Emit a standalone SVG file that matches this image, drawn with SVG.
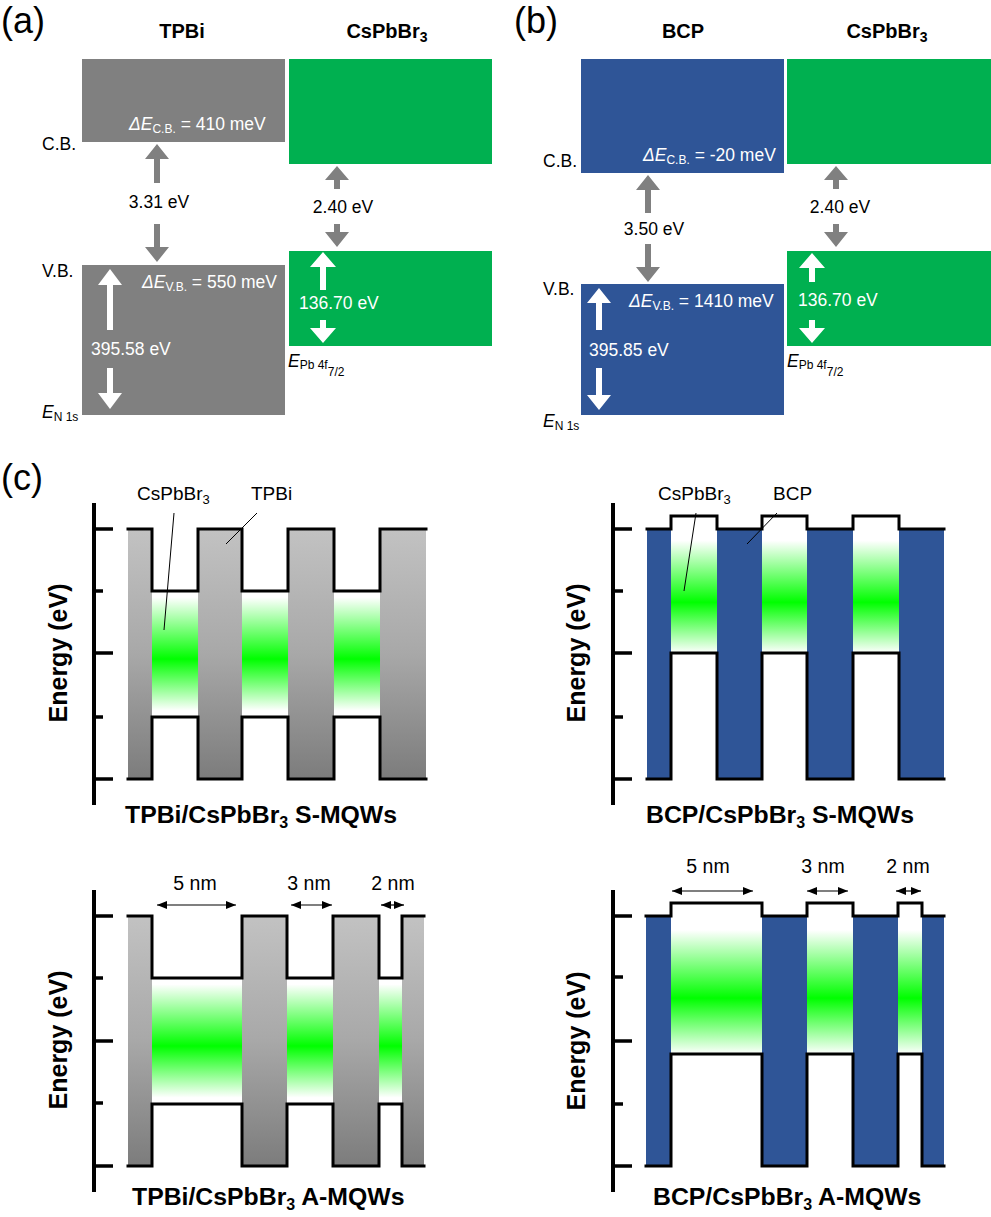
<svg xmlns="http://www.w3.org/2000/svg" width="991" height="1217" viewBox="0 0 991 1217">
<defs>
<style>
text{font-family:"Liberation Sans",Arial,sans-serif;fill:#000}
.lbl{font-size:17.5px}
.w{fill:#fff}
.hdr{font-size:20px;font-weight:bold}
.pl{font-size:36px}
.ttl{font-size:24.8px;font-weight:bold}
.en{font-size:25px;font-weight:bold}
.cl{font-size:19px}
.dl{font-size:19.5px}
.ga{fill:#808080}
.wa{fill:#fff}
.ol{fill:none;stroke:#000;stroke-width:3;stroke-linejoin:miter;stroke-linecap:square}
.ax{stroke:#000;stroke-width:4}
.tk{stroke:#000;stroke-width:3.5}
.ld{stroke:#000;stroke-width:1;fill:none}
.dim{stroke:#000;stroke-width:1.2;marker-start:url(#ah);marker-end:url(#ah)}
.gry{fill:url(#gg)}
.blu{fill:#2F5597}
.grn{fill:#00B050}
</style>
<linearGradient id="gg" x1="0" y1="0" x2="0" y2="1">
<stop offset="0" stop-color="#c2c2c2"/>
<stop offset="0.5" stop-color="#a8a8a8"/>
<stop offset="1" stop-color="#7c7c7c"/>
</linearGradient>
<linearGradient id="gw1" x1="0" y1="0" x2="0" y2="1">
<stop offset="0" stop-color="#fff"/>
<stop offset="0.05" stop-color="#fff"/>
<stop offset="0.54" stop-color="#00ff00"/>
<stop offset="0.95" stop-color="#fff"/>
<stop offset="1" stop-color="#fff"/>
</linearGradient>
<linearGradient id="gw2" x1="0" y1="0" x2="0" y2="1">
<stop offset="0" stop-color="#fff"/>
<stop offset="0.18" stop-color="#fff"/>
<stop offset="0.63" stop-color="#00ff00"/>
<stop offset="1" stop-color="#fff"/>
</linearGradient>
<marker id="ah" viewBox="0 0 10 8" refX="10" refY="4" markerWidth="10" markerHeight="8" markerUnits="userSpaceOnUse" orient="auto-start-reverse">
<path d="M0,0 L10,4 L0,8 Z" fill="#000"/>
</marker>
</defs>
<rect width="991" height="1217" fill="#fff"/>

<!-- Panel (a) -->
<g id="panel-a">
<text class="pl" x="1" y="33">(a)</text>
<text class="hdr" x="182" y="38" text-anchor="middle">TPBi</text>
<text class="hdr" x="387" y="38" text-anchor="middle">CsPbBr<tspan font-size="14" dy="4">3</tspan></text>
<g id="a-tpbi-cb"><rect x="82" y="59" width="203" height="83" fill="#808080"/>
<text class="lbl w" x="129" y="130"><tspan font-style="italic">ΔE</tspan><tspan font-size="12" dy="3">C.B.</tspan><tspan dy="-3"> = 410 meV</tspan></text></g>
<g id="a-cspbbr3-cb"><rect x="289" y="59" width="203" height="105" class="grn"/></g>
<g id="a-tpbi-vb"><rect x="82" y="265" width="203" height="150" fill="#808080"/>
<text class="lbl w" x="142" y="288"><tspan font-style="italic">ΔE</tspan><tspan font-size="12" dy="3">V.B.</tspan><tspan dy="-3"> = 550 meV</tspan></text>
<text class="lbl w" x="91" y="355">395.58 eV</text></g>
<g id="a-cspbbr3-vb"><rect x="289" y="251" width="203" height="95" class="grn"/>
<text class="lbl w" x="299" y="309">136.70 eV</text></g>
<text class="lbl" x="42" y="150">C.B.</text>
<text class="lbl" x="42" y="277">V.B.</text>
<text class="lbl" x="42" y="418"><tspan font-style="italic">E</tspan><tspan font-size="12" dy="3">N 1s</tspan></text>
<text class="lbl" x="288" y="367"><tspan font-style="italic">E</tspan><tspan font-size="12" dy="2">Pb 4f</tspan><tspan font-size="12" dy="7">7/2</tspan></text>
<text class="lbl" x="159" y="208" text-anchor="middle">3.31 eV</text>
<text class="lbl" x="343" y="213" text-anchor="middle">2.40 eV</text>
</g>

<!-- Panel (b) -->
<g id="panel-b">
<text class="pl" x="514" y="33">(b)</text>
<text class="hdr" x="683" y="38" text-anchor="middle">BCP</text>
<text class="hdr" x="887" y="38" text-anchor="middle">CsPbBr<tspan font-size="14" dy="4">3</tspan></text>
<g id="b-bcp-cb"><rect x="581" y="59" width="203" height="114" class="blu"/>
<text class="lbl w" x="643" y="161"><tspan font-style="italic">ΔE</tspan><tspan font-size="12" dy="3">C.B.</tspan><tspan dy="-3"> = -20 meV</tspan></text></g>
<g id="b-cspbbr3-cb"><rect x="787" y="59" width="204" height="105" class="grn"/></g>
<g id="b-bcp-vb"><rect x="581" y="284" width="203" height="131" class="blu"/>
<text class="lbl w" x="629" y="307"><tspan font-style="italic">ΔE</tspan><tspan font-size="12" dy="3">V.B.</tspan><tspan dy="-3"> = 1410 meV</tspan></text>
<text class="lbl w" x="589" y="356">395.85 eV</text></g>
<g id="b-cspbbr3-vb"><rect x="787" y="251" width="204" height="95" class="grn"/>
<text class="lbl w" x="798" y="306">136.70 eV</text></g>
<text class="lbl" x="543" y="167">C.B.</text>
<text class="lbl" x="543" y="295">V.B.</text>
<text class="lbl" x="543" y="427"><tspan font-style="italic">E</tspan><tspan font-size="12" dy="3">N 1s</tspan></text>
<text class="lbl" x="787" y="367"><tspan font-style="italic">E</tspan><tspan font-size="12" dy="2">Pb 4f</tspan><tspan font-size="12" dy="7">7/2</tspan></text>
<text class="lbl" x="654" y="235" text-anchor="middle">3.50 eV</text>
<text class="lbl" x="840" y="213" text-anchor="middle">2.40 eV</text>
</g>

<!-- Panel (c) top-left: TPBi S-MQWs -->
<g id="c-tpbi-s">
<text class="pl" x="1" y="490">(c)</text>
<rect x="152" y="591" width="46" height="126" fill="url(#gw1)"/>
<rect x="242" y="591" width="46" height="126" fill="url(#gw1)"/>
<rect x="334" y="591" width="46" height="126" fill="url(#gw1)"/>
<rect x="128" y="529" width="24" height="250" class="gry"/>
<rect x="198" y="529" width="44" height="250" class="gry"/>
<rect x="288" y="529" width="46" height="250" class="gry"/>
<rect x="380" y="529" width="46" height="250" class="gry"/>
<path class="ol" d="M128,529 H152 V591 H198 V529 H242 V591 H288 V529 H334 V591 H380 V529 H426"/>
<path class="ol" d="M128,779 H152 V717 H198 V779 H242 V717 H288 V779 H334 V717 H380 V779 H426"/>
<line class="ax" x1="94" y1="503" x2="94" y2="805"/>
<line class="tk" x1="94" y1="529" x2="113" y2="529"/>
<line class="tk" x1="94" y1="591" x2="103" y2="591"/>
<line class="tk" x1="94" y1="653" x2="113" y2="653"/>
<line class="tk" x1="94" y1="717" x2="103" y2="717"/>
<line class="tk" x1="94" y1="779" x2="113" y2="779"/>
<text class="en" transform="translate(67,653) rotate(-90)" text-anchor="middle">Energy (eV)</text>
<text class="cl" x="137" y="500">CsPbBr<tspan font-size="13" dy="4">3</tspan></text>
<text class="cl" x="251" y="500">TPBi</text>
<text class="ttl" x="125" y="823">TPBi/CsPbBr<tspan font-size="16" dy="5">3</tspan><tspan dy="-5"> S-MQWs</tspan></text>
</g>

<!-- Panel (c) top-right: BCP S-MQWs -->
<g id="c-bcp-s">
<rect x="671" y="516" width="46" height="137" fill="url(#gw2)"/>
<rect x="762" y="516" width="45" height="137" fill="url(#gw2)"/>
<rect x="853" y="516" width="46" height="137" fill="url(#gw2)"/>
<rect x="647" y="529" width="24" height="250" class="blu"/>
<rect x="717" y="529" width="45" height="250" class="blu"/>
<rect x="807" y="529" width="46" height="250" class="blu"/>
<rect x="899" y="529" width="45" height="250" class="blu"/>
<path class="ol" d="M647,529 H671 V516 H717 V529 H762 V516 H807 V529 H853 V516 H899 V529 H944"/>
<path class="ol" d="M647,779 H671 V653 H717 V779 H762 V653 H807 V779 H853 V653 H899 V779 H944"/>
<line class="ax" x1="613" y1="503" x2="613" y2="805"/>
<line class="tk" x1="613" y1="529" x2="632" y2="529"/>
<line class="tk" x1="613" y1="591" x2="623" y2="591"/>
<line class="tk" x1="613" y1="653" x2="632" y2="653"/>
<line class="tk" x1="613" y1="717" x2="623" y2="717"/>
<line class="tk" x1="613" y1="779" x2="632" y2="779"/>
<text class="en" transform="translate(585,653) rotate(-90)" text-anchor="middle">Energy (eV)</text>
<text class="cl" x="658" y="500">CsPbBr<tspan font-size="13" dy="4">3</tspan></text>
<text class="cl" x="773" y="500">BCP</text>
<text class="ttl" x="646" y="823">BCP/CsPbBr<tspan font-size="16" dy="5">3</tspan><tspan dy="-5"> S-MQWs</tspan></text>
</g>

<!-- Panel (c) bottom-left: TPBi A-MQWs -->
<g id="c-tpbi-a">
<rect x="152" y="978" width="90" height="126" fill="url(#gw1)"/>
<rect x="287" y="978" width="46" height="126" fill="url(#gw1)"/>
<rect x="379" y="978" width="23" height="126" fill="url(#gw1)"/>
<rect x="128" y="916" width="24" height="250" class="gry"/>
<rect x="242" y="916" width="45" height="250" class="gry"/>
<rect x="333" y="916" width="46" height="250" class="gry"/>
<rect x="402" y="916" width="22" height="250" class="gry"/>
<path class="ol" d="M128,916 H152 V978 H242 V916 H287 V978 H333 V916 H379 V978 H402 V916 H424"/>
<path class="ol" d="M128,1166 H152 V1104 H242 V1166 H287 V1104 H333 V1166 H379 V1104 H402 V1166 H424"/>
<line class="ax" x1="94" y1="890" x2="94" y2="1192"/>
<line class="tk" x1="94" y1="916" x2="113" y2="916"/>
<line class="tk" x1="94" y1="978" x2="103" y2="978"/>
<line class="tk" x1="94" y1="1041" x2="113" y2="1041"/>
<line class="tk" x1="94" y1="1103" x2="103" y2="1103"/>
<line class="tk" x1="94" y1="1166" x2="113" y2="1166"/>
<text class="en" transform="translate(67,1040) rotate(-90)" text-anchor="middle">Energy (eV)</text>
<text class="dl" x="195" y="890" text-anchor="middle">5 nm</text>
<text class="dl" x="309" y="890" text-anchor="middle">3 nm</text>
<text class="dl" x="393" y="890" text-anchor="middle">2 nm</text>
<text class="ttl" x="132" y="1205">TPBi/CsPbBr<tspan font-size="16" dy="5">3</tspan><tspan dy="-5"> A-MQWs</tspan></text>
</g>

<!-- Panel (c) bottom-right: BCP A-MQWs -->
<g id="c-bcp-a">
<rect x="671" y="903" width="91" height="151" fill="url(#gw2)"/>
<rect x="807" y="903" width="46" height="151" fill="url(#gw2)"/>
<rect x="898" y="903" width="24" height="151" fill="url(#gw2)"/>
<rect x="646" y="916" width="25" height="250" class="blu"/>
<rect x="762" y="916" width="45" height="250" class="blu"/>
<rect x="853" y="916" width="45" height="250" class="blu"/>
<rect x="922" y="916" width="22" height="250" class="blu"/>
<path class="ol" d="M646,916 H671 V903 H762 V916 H807 V903 H853 V916 H898 V903 H922 V916 H944"/>
<path class="ol" d="M646,1166 H671 V1054 H762 V1166 H807 V1054 H853 V1166 H898 V1054 H922 V1166 H944"/>
<line class="ax" x1="613" y1="890" x2="613" y2="1192"/>
<line class="tk" x1="613" y1="916" x2="632" y2="916"/>
<line class="tk" x1="613" y1="977" x2="623" y2="977"/>
<line class="tk" x1="613" y1="1041" x2="632" y2="1041"/>
<line class="tk" x1="613" y1="1104" x2="623" y2="1104"/>
<line class="tk" x1="613" y1="1166" x2="632" y2="1166"/>
<text class="en" transform="translate(585,1041) rotate(-90)" text-anchor="middle">Energy (eV)</text>
<text class="dl" x="708" y="873" text-anchor="middle">5 nm</text>
<text class="dl" x="823" y="873" text-anchor="middle">3 nm</text>
<text class="dl" x="908" y="873" text-anchor="middle">2 nm</text>
<text class="ttl" x="653" y="1205">BCP/CsPbBr<tspan font-size="16" dy="5">3</tspan><tspan dy="-5"> A-MQWs</tspan></text>
</g>

<g id="connectors">
<polygon class="ga" points="157,144 169,159 160,159 160,183 154,183 154,159 145,159"/>
<polygon class="ga" points="154,224 160,224 160,247 169,247 157,262 145,247 154,247"/>
<polygon class="ga" points="337,166 349,180 340,180 340,189 334,189 334,180 325,180"/>
<polygon class="ga" points="334,224 340,224 340,232 349,232 337,247 325,232 334,232"/>
<polygon class="wa" points="323,252 336,267 326,267 326,290 320,290 320,267 310,267"/>
<polygon class="wa" points="320,320 326,320 326,328 336,328 323,343 310,328 320,328"/>
<polygon class="wa" points="110,269 122,285 113,285 113,330 107,330 107,285 98,285"/>
<polygon class="wa" points="107,368 113,368 113,393 122,393 110,409 98,393 107,393"/>
<polygon class="ga" points="648,175 660,190 651,190 651,213 645,213 645,190 636,190"/>
<polygon class="ga" points="645,244 651,244 651,267 660,267 648,282 636,267 645,267"/>
<polygon class="ga" points="836,166 848,180 839,180 839,189 833,189 833,180 824,180"/>
<polygon class="ga" points="833,224 839,224 839,232 848,232 836,247 824,232 833,232"/>
<polygon class="wa" points="812,253 825,268 815,268 815,282 809,282 809,268 799,268"/>
<polygon class="wa" points="809,320 815,320 815,328 825,328 812,343 799,328 809,328"/>
<polygon class="wa" points="599,288 611,303 602,303 602,330 596,330 596,303 587,303"/>
<polygon class="wa" points="596,368 602,368 602,395 611,395 599,410 587,395 596,395"/>
<line class="ld" x1="174" y1="513" x2="164" y2="630"/>
<line class="ld" x1="257" y1="513" x2="226" y2="544"/>
<line class="ld" x1="696" y1="513" x2="684" y2="591"/>
<line class="ld" x1="777" y1="513" x2="747" y2="544"/>
<line class="dim" x1="157" y1="905" x2="236" y2="905"/>
<line class="dim" x1="291" y1="905" x2="332" y2="905"/>
<line class="dim" x1="381" y1="905" x2="404" y2="905"/>
<line class="dim" x1="672" y1="891" x2="753" y2="891"/>
<line class="dim" x1="807" y1="891" x2="848" y2="891"/>
<line class="dim" x1="896" y1="891" x2="921" y2="891"/>
</g>
</svg>
